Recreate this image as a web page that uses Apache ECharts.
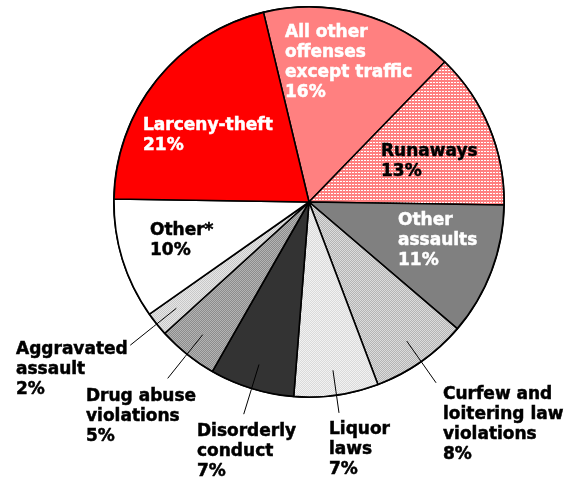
<!DOCTYPE html>
<html>
<head>
<meta charset="utf-8">
<script src="https://cdn.jsdelivr.net/npm/echarts@6/dist/echarts.min.js"></script>
<style>
  html, body { margin: 0; padding: 0; background: #fff; }
  #chart { width: 583px; height: 479px; }
</style>
</head>
<body>
<div id="chart"></div>
<script>
// offense categories, clockwise from the top
const categories = [
  "All other\noffenses\nexcept traffic",
  "Runaways",
  "Other\nassaults",
  "Curfew and\nloitering law\nviolations",
  "Liquor\nlaws",
  "Disorderly\nconduct",
  "Drug abuse\nviolations",
  "Aggravated\nassault",
  "Other*",
  "Larceny-theft"
];
const shares = [16, 13, 11, 8, 7, 7, 5, 2, 10, 21];

// layout bits (not data)
const cx = 309, cy = 202, R = 195, startDeg = 103.5;
const labelPos = [
  [285, 23], [381, 142], [398, 211], [443, 385], [329, 420],
  [197, 422], [86, 387], [16, 340], [150, 221], [143, 116]
];
// leader line outer radius, null = label sits inside the slice
const lineEnd = [null, null, null, 221, 213, 222, 226, 229, null, null];
const whiteText = [true, false, true, false, false, false, false, false, false, true];

function pattern(a, b, size, dots) {
  const c = document.createElement("canvas");
  c.width = size; c.height = size;
  const g = c.getContext("2d");
  g.fillStyle = a; g.fillRect(0, 0, size, size);
  g.fillStyle = b;
  dots.forEach(d => g.fillRect(d[0], d[1], 1, 1));
  return { image: c, repeat: "repeat" };
}

const fills = [
  "#FF8080",
  pattern("#FF8080", "#FFFFFF", 3, [[1, 1], [2, 1]]),
  "#808080",
  pattern("#B4B4B4", "#DCDCDC", 2, [[0, 0], [1, 1]]),
  pattern("#DADADA", "#F2F2F2", 2, [[0, 0], [1, 1]]),
  "#333333",
  pattern("#8C8C8C", "#B4B4B4", 2, [[0, 0], [1, 1]]),
  pattern("#E6E6E6", "#C8C8C8", 2, [[0, 0], [1, 1]]),
  "#FFFFFF",
  "#FF0000"
];

const total = shares.reduce((s, v) => s + v, 0);
function midAngle(i) {
  let acc = 0;
  for (let j = 0; j < i; j++) acc += shares[j];
  return (startDeg - (acc + shares[i] / 2) / total * 360) * Math.PI / 180;
}
function polar(a, r) {
  return [cx + r * Math.cos(a), cy - r * Math.sin(a)];
}

const chart = echarts.init(document.getElementById("chart"));
chart.setOption({
  animation: false,
  series: [{
    // filled slices
    type: "pie",
    z: 2,
    center: [cx, cy],
    radius: R,
    startAngle: startDeg,
    clockwise: true,
    silent: true,
    label: { show: false },
    labelLine: { show: false },
    itemStyle: { borderColor: "#000", borderWidth: 1.6 },
    data: categories.map((name, i) => ({
      name: name,
      value: shares[i],
      itemStyle: { color: fills[i] }
    }))
  }, {
    // heavier outer rim
    type: "pie",
    z: 3,
    center: [cx, cy],
    radius: [R, R + 1],
    silent: true,
    label: { show: false },
    labelLine: { show: false },
    itemStyle: { color: "#000" },
    data: [{ value: 1 }]
  }, {
    // transparent copy on top, carries labels and leader lines
    type: "pie",
    z: 5,
    center: [cx, cy],
    radius: R,
    startAngle: startDeg,
    clockwise: true,
    silent: true,
    avoidLabelOverlap: false,
    itemStyle: { color: "rgba(0,0,0,0)", borderWidth: 0 },
    data: categories.map((name, i) => ({
      name: name,
      value: shares[i],
      label: {
        position: lineEnd[i] ? "outside" : "inside",
        color: whiteText[i] ? "#fff" : "#000",
        textBorderColor: whiteText[i] ? "#fff" : "#000"
      },
      labelLine: { show: !!lineEnd[i] }
    })),
    label: {
      formatter: p => p.name + "\n" + p.value + "%",
      fontFamily: "DejaVu Sans",
      fontWeight: "bold",
      fontSize: 17,
      lineHeight: 20,
      textBorderWidth: 0.5
    },
    labelLine: { lineStyle: { color: "#000", width: 1 } },
    labelLayout: function (p) {
      const i = p.dataIndex;
      const out = {
        x: labelPos[i][0],
        y: labelPos[i][1],
        align: "left",
        verticalAlign: "top"
      };
      if (lineEnd[i]) {
        const a = midAngle(i);
        out.labelLinePoints = [polar(a, 170), polar(a, (170 + lineEnd[i]) / 2), polar(a, lineEnd[i])];
      }
      return out;
    }
  }]
});
</script>
</body>
</html>
